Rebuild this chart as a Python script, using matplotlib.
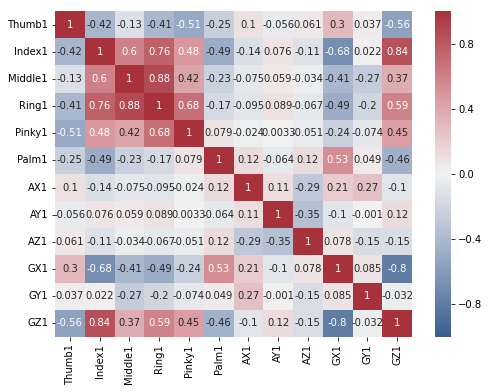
import matplotlib
matplotlib.use("Agg")
import matplotlib.pyplot as plt
from matplotlib.colors import LinearSegmentedColormap
import seaborn as sns
import pandas as pd

labels = ["Thumb1", "Index1", "Middle1", "Ring1", "Pinky1", "Palm1",
          "AX1", "AY1", "AZ1", "GX1", "GY1", "GZ1"]

thumb1 = [1, -0.42, -0.13, -0.41, -0.51, -0.25, 0.1, -0.056, 0.061, 0.3, 0.037, -0.56]
index1 = [-0.42, 1, 0.6, 0.76, 0.48, -0.49, -0.14, 0.076, -0.11, -0.68, 0.022, 0.84]
middle1 = [-0.13, 0.6, 1, 0.88, 0.42, -0.23, -0.075, 0.059, -0.034, -0.41, -0.27, 0.37]
ring1 = [-0.41, 0.76, 0.88, 1, 0.68, -0.17, -0.095, 0.089, -0.067, -0.49, -0.2, 0.59]
pinky1 = [-0.51, 0.48, 0.42, 0.68, 1, 0.079, -0.024, 0.0033, -0.051, -0.24, -0.074, 0.45]
palm1 = [-0.25, -0.49, -0.23, -0.17, 0.079, 1, 0.12, -0.064, 0.12, 0.53, 0.049, -0.46]
ax1 = [0.1, -0.14, -0.075, -0.095, -0.024, 0.12, 1, 0.11, -0.29, 0.21, 0.27, -0.1]
ay1 = [-0.056, 0.076, 0.059, 0.089, 0.0033, -0.064, 0.11, 1, -0.35, -0.1, -0.001, 0.12]
az1 = [0.061, -0.11, -0.034, -0.067, -0.051, 0.12, -0.29, -0.35, 1, 0.078, -0.15, -0.15]
gx1 = [0.3, -0.68, -0.41, -0.49, -0.24, 0.53, 0.21, -0.1, 0.078, 1, 0.085, -0.8]
gy1 = [0.037, 0.022, -0.27, -0.2, -0.074, 0.049, 0.27, -0.001, -0.15, 0.085, 1, -0.032]
gz1 = [-0.56, 0.84, 0.37, 0.59, 0.45, -0.46, -0.1, 0.12, -0.15, -0.8, -0.032, 1]

corr = pd.DataFrame([thumb1, index1, middle1, ring1, pinky1, palm1,
                     ax1, ay1, az1, gx1, gy1, gz1], index=labels, columns=labels)

fig = plt.figure(figsize=(489 / 72, 392 / 72), dpi=72)
ax = fig.add_axes([55 / 489, 1 - 337 / 392, 357 / 489, 326 / 392])
cax = fig.add_axes([435 / 489, 1 - 337 / 392, 16 / 489, 326 / 392])

# muted blue -> light gray -> muted red, like the old seaborn diverging palette
cmap = LinearSegmentedColormap.from_list(
    "div", ["#3b5d8d", "#9aabc6", "#f2f2f2", "#d7959b", "#a8323b"])
sns.heatmap(corr, ax=ax, cbar_ax=cax, cmap=cmap, vmin=-1, vmax=1,
            annot=True, annot_kws={"size": 10})

ax.tick_params(labelsize=10)
cax.tick_params(labelsize=10)
cax.set_yticks([-0.8, -0.4, 0.0, 0.4, 0.8])
cax.set_yticklabels(["\u22120.8", "\u22120.4", "0.0", "0.4", "0.8"])
plt.setp(ax.get_yticklabels(), rotation=0)
plt.setp(ax.get_xticklabels(), rotation=90)

fig.savefig("out.png", dpi=72)
